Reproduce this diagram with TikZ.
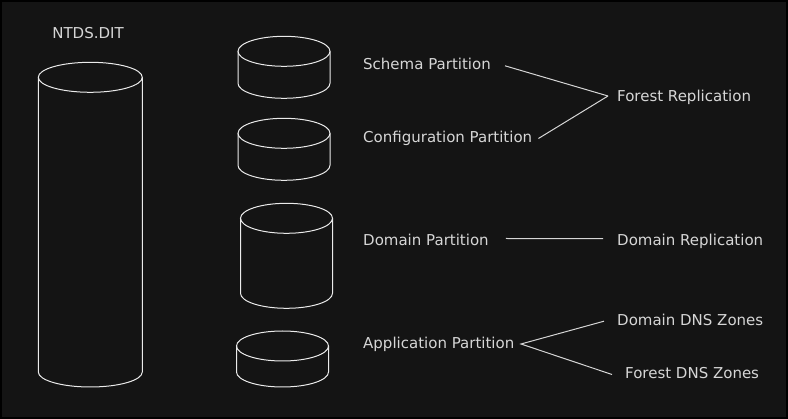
\documentclass[tikz,border=0pt]{standalone}
\usepackage{fontspec}
\setmainfont{DejaVu Sans}
\usetikzlibrary{positioning}

\definecolor{bgdark}{RGB}{20,20,20}
\definecolor{inkgray}{RGB}{214,214,214}
\definecolor{diskwhite}{RGB}{235,235,235}

\tikzset{
  label/.style={anchor=base west,inner sep=0,text=inkgray,
    font=\fontsize{15}{18}\selectfont,text height=12pt,text depth=3pt},
  disk/.style={draw=diskwhite,line width=1pt},
  link/.style={draw=inkgray,line width=1pt}
}

\begin{document}
\begin{tikzpicture}
  [x=1pt,y=-1pt]
  \useasboundingbox (0,0) rectangle (788,419);
  \fill[bgdark] (0,0) rectangle (788,419);
  \draw[black,line width=4pt] (0,0) rectangle (788,419);

  % database file
  \node[label,anchor=base] (ntds) at (88,39) {NTDS.DIT};
  \draw[disk] (90.3,77.3) ellipse [x radius=52,y radius=15];
  \draw[disk] (38.3,77.3) -- (38.3,372) arc [start angle=180,end angle=0,x radius=52,y radius=15] -- (142.3,77.3);

  % partitions
  \foreach \cx/\top/\bot in {284/51.3/83.3, 284/133.3/165.3, 286.5/218.3/293.3, 282.5/346/372} {
    \draw[disk] (\cx,\top) ellipse [x radius=46,y radius=15];
    \draw[disk] (\cx-46,\top) -- (\cx-46,\bot) arc [start angle=180,end angle=0,x radius=46,y radius=15] -- (\cx+46,\top);
  }

  \node[label] (schema) at (363,69.3) {Schema Partition};
  \node[label] (config) at (363,143) {Configuration Partition};
  \node[label] (domain) at (363,246) {Domain Partition};
  \node[label] (appl) at (363,349) {Application Partition};

  \node[label] (forestrep) at (617,102) {Forest Replication};
  \node[label] (domainrep) at (617,245.7) {Domain Replication};
  \node[label] (domaindns) at (617,325.7) {Domain DNS Zones};
  \node[label] (forestdns) at (625,379) {Forest DNS Zones};

  \coordinate (fork1) at (608,96);
  \coordinate (fork2) at (521,344);

  \draw[link] ([xshift=14pt,yshift=-1pt]schema.east) -- (fork1);
  \draw[link] ([xshift=6pt]config.east) -- (fork1);
  \draw[link] ([xshift=17pt,yshift=3pt]domain.east) -- ([xshift=-14pt,yshift=2.5pt]domainrep.west);
  \draw[link] ([xshift=-13pt]domaindns.west) -- (fork2) -- ([xshift=-13pt]forestdns.west);
\end{tikzpicture}
\end{document}
